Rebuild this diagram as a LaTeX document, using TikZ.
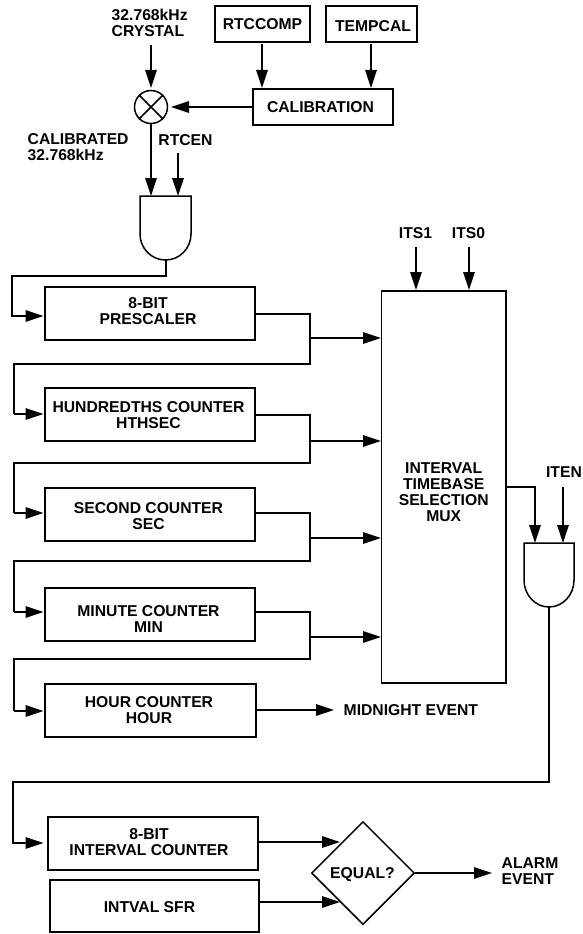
\documentclass[tikz,border=0pt]{standalone}
\usepackage{fontspec}
\setmainfont{Liberation Sans}
\usetikzlibrary{arrows.meta,shapes.geometric}
\tikzset{
  x=1pt,y=-1pt,
  box/.style={draw,line width=1.5pt,rectangle,inner sep=0pt},
  lab/.style={inner sep=0pt,align=left,font=\fontsize{15.7}{16}\selectfont\bfseries},
  boxtext/.style={lab,align=center},
  wire/.style={line width=1.5pt,line join=miter},
  arr/.style={wire,-{Triangle[length=18pt,width=11.5pt]}},
  gate/.style={line width=1.5pt}
}
% name, text centre x, text centre y, left, right, top, bottom, text
\newcommand{\blk}[8]{\node[box,minimum width={(#5-#4)*1pt},minimum height={(#7-#6)*1pt}] (#1) at ({(#4+#5)/2},{(#6+#7)/2}) {};
  \node[boxtext] (#1t) at (#2,#3) {#8};}
\begin{document}
\begin{tikzpicture}
\useasboundingbox (0,0) rectangle (582,934);
\blk{rtccomp}{262.5}{24}{215}{310}{6}{42}{RTCCOMP}
\blk{tempcal}{373}{26.5}{326}{417}{6}{42}{TEMPCAL}
\blk{calib}{320.5}{107}{253}{393}{89}{125}{CALIBRATION}
\blk{pre}{148}{311}{45}{255}{287}{340}{8-BIT\\PRESCALER}
\blk{hth}{148.5}{415}{45}{255}{388}{441}{HUNDREDTHS COUNTER\\HTHSEC}
\blk{sec}{148.5}{516}{45}{255}{488}{541}{SECOND COUNTER\\SEC}
\blk{min}{148.5}{619}{45}{255}{588}{641}{MINUTE COUNTER\\MIN}
\blk{hour}{149}{710}{45}{256}{684}{737}{HOUR COUNTER\\HOUR}
\blk{ivc}{149}{842}{48}{258}{817}{870}{8-BIT\\INTERVAL COUNTER}
\blk{sfr}{149.5}{907.5}{50}{259}{880}{932}{INTVAL SFR}
\blk{mux}{443.7}{492}{381.5}{506}{291}{683}{INTERVAL\\TIMEBASE\\SELECTION\\MUX}
\node[draw,diamond,line width=1.5pt,inner sep=0pt,aspect=1,minimum width=103pt,minimum height=103pt] (eq) at (363,873) {};
\node[lab] (eqt) at (362.5,874.5) {EQUAL?};
\node[draw,circle,line width=1.5pt,minimum size=33pt,inner sep=0pt] (mix) at (151,107) {};
\draw[line width=1.5pt] (mix.north west)--(mix.south east) (mix.north east)--(mix.south west);
\node[lab,anchor=west] (xtal) at (111.5,22.5) {32.768kHz\\CRYSTAL};
\node[lab,anchor=west] (cal32) at (27.5,147.5) {CALIBRATED\\32.768kHz};
\node[lab] (rtcen) at (185.5,140.5) {RTCEN};
\node[lab] (its1) at (415.5,233) {ITS1};
\node[lab] (its0) at (468.5,233) {ITS0};
\node[lab] (iten) at (564,472) {ITEN};
\node[lab,anchor=west] (midn) at (343.5,710.5) {MIDNIGHT EVENT};
\node[lab,anchor=west] (alarm) at (501.5,871) {ALARM\\EVENT};
% gates
\draw[gate] (140,196) -- (191,196) -- (191,234) arc[start angle=0,end angle=180,x radius=25.5pt,y radius=-26pt] -- cycle;
\coordinate (g1a) at (151,196); \coordinate (g1b) at (178,196); \coordinate (g1o) at (166,260);
\draw[gate] (524,543) -- (574,543) -- (574,580) arc[start angle=0,end angle=180,x radius=25pt,y radius=-27pt] -- cycle;
\coordinate (g2a) at (535,543); \coordinate (g2b) at (563,543); \coordinate (g2o) at (549,607);
% top
\draw[arr] (151,45) -- (151,88);
\draw[arr] (262,44) -- (262,88);
\draw[arr] (371,44) -- (371,88);
\draw[arr] (calib.west) -- (171,107);
\draw[arr] (mix.south) -- (g1a);
\draw[arr] (178,153) -- (g1b);
% chain
\draw[arr] (g1o) -- (166,276) -- (12,276) -- (12,316) -- (43.5,316);
\draw[wire] (255,314) -- (310,314) -- (310,364) -- (14,364) -- (14,414);
\draw[arr] (14,414) -- (43.5,414);
\draw[wire] (255,415) -- (310,415) -- (310,463) -- (14,463) -- (14,513);
\draw[arr] (14,513) -- (43.5,513);
\draw[wire] (255,513) -- (310,513) -- (310,561) -- (14,561) -- (14,612);
\draw[arr] (14,612) -- (43.5,612);
\draw[wire] (255,612) -- (310,612) -- (310,659) -- (14,659) -- (14,711);
\draw[arr] (14,711) -- (43.5,711);
\draw[arr] (310,338) -- (381,338);
\draw[arr] (310,441) -- (381,441);
\draw[arr] (310,538) -- (381,538);
\draw[arr] (310,637) -- (381,637);
\draw[arr] (416,247) -- (416,290);
\draw[arr] (469,247) -- (469,290);
\draw[arr] (506,487) -- (535,487) -- (g2a);
\draw[arr] (563,487) -- (g2b);
\draw[arr] (256,710) -- (334,710);
\draw[arr] (g2o) -- (549,782) -- (13,782) -- (13,843) -- (43.5,843);
\draw[arr] (258,842) -- (340,842);
\draw[arr] (259,902) -- (340,902);
\draw[arr] (eq.east) -- (492,873);
\end{tikzpicture}
\end{document}
